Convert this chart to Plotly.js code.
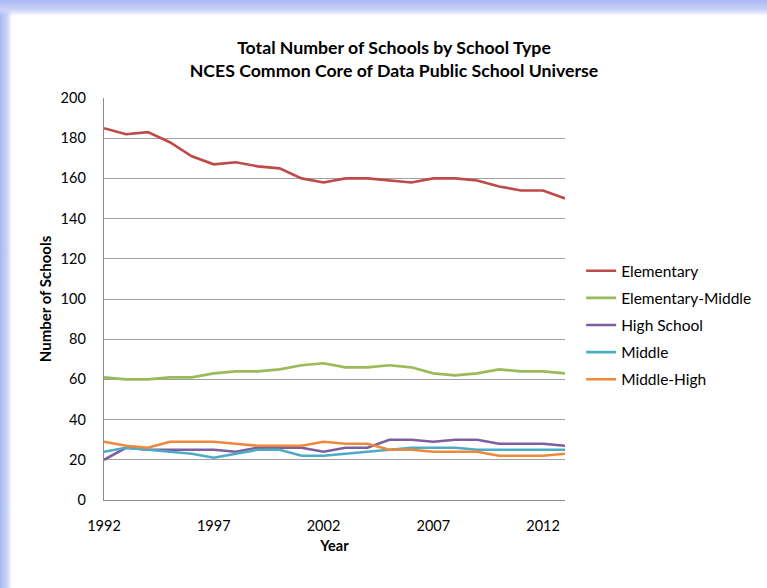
<!DOCTYPE html>
<html>
<head>
<meta charset="utf-8">
<script src="https://cdn.plot.ly/plotly-3.0.1.min.js"></script>
<style>
html,body{margin:0;padding:0;background:#fff;}
#wrap{position:relative;width:767px;height:588px;overflow:hidden;}
#chart{position:absolute;left:0;top:0;width:767px;height:588px;}
#glowL{position:absolute;left:0;top:0;width:12px;height:588px;background:linear-gradient(to right,#a9b8f2,#c9d3f8 60%,rgba(255,255,255,0));pointer-events:none;}
#glowT{position:absolute;left:0;top:0;width:767px;height:16px;background:linear-gradient(to bottom,#a9b8f2,#c9d3f8 60%,rgba(255,255,255,0));pointer-events:none;}
</style>
</head>
<body>
<div id="wrap"><div id="chart"></div><div id="glowL"></div><div id="glowT"></div></div>
<script>
const years = [1992,1993,1994,1995,1996,1997,1998,1999,2000,2001,2002,2003,2004,2005,2006,2007,2008,2009,2010,2011,2012,2013];
const elementary = [185,182,183,178,171,167,168,166,165,160,158,160,160,159,158,160,160,159,156,154,154,150];
const elementaryMiddle = [61,60,60,61,61,63,64,64,65,67,68,66,66,67,66,63,62,63,65,64,64,63];
const highSchool = [20,26,25,25,25,25,24,26,26,26,24,26,26,30,30,29,30,30,28,28,28,27];
const middle = [24,26,25,24,23,21,23,25,25,22,22,23,24,25,26,26,26,25,25,25,25,25];
const middleHigh = [29,27,26,29,29,29,28,27,27,27,29,28,28,25,25,24,24,24,22,22,22,23];

const seriesNames = ['Elementary','Elementary-Middle','High School','Middle','Middle-High'];
const seriesData = [elementary, elementaryMiddle, highSchool, middle, middleHigh];
const colors = ['#BE4B48','#9BBB59','#7D5FA0','#4BACC6','#F0883C'];

const traces = seriesNames.map((n,i)=>({
  x: years, y: seriesData[i], name: n, type:'scatter', mode:'lines', legendgroup:'g'+i,
  line:{color:colors[i], width:2.6}
}));

const font = 'Lato, "Open Sans", sans-serif';
const layout = {
  width:767, height:588,
  margin:{l:104, r:202, t:98, b:88, autoexpand:false},
  paper_bgcolor:'#fff', plot_bgcolor:'#fff',
  font:{family:font, size:14, color:'#000'},
  title:{text:'<b>Total Number of Schools by School Type</b><br><b>NCES Common Core of Data Public School Universe</b>',
    font:{family:font, size:17.7, color:'#000'}, x:394/767, xref:'container', xanchor:'center', y:1-53.5/588, yref:'container', yanchor:'middle'},
  xaxis:{range:[1992,2013], tickvals:[1992,1997,2002,2007,2012], ticktext:['1992','1997','2002','2007','2012'],
    showgrid:false, zeroline:false, showline:true, linecolor:'#8c8c8c', linewidth:1.3,
    ticks:'outside', ticklen:12, tickcolor:'rgba(0,0,0,0)', automargin:false,
    tickfont:{family:font,size:14.5,color:'#000'},
    title:{text:'<b>Year</b>', font:{family:font,size:14.5,color:'#000'}, standoff:8}},
  yaxis:{range:[0,200], dtick:20, showgrid:true, gridcolor:'#a0a0a0', gridwidth:1, zeroline:false,
    showline:true, linecolor:'#8c8c8c', linewidth:1.3, automargin:false,
    ticks:'outside', ticklen:14, tickcolor:'rgba(0,0,0,0)', tickfont:{family:font,size:14.5,color:'#000'},
    title:{text:'<b>Number of Schools</b>', font:{family:font,size:15,color:'#000'}, standoff:5}},
  legend:{x:1.035, xanchor:'left', y:0.435, yanchor:'middle', font:{family:font,size:15.5,color:'#000'},
    tracegroupgap:4, itemwidth:30, bgcolor:'rgba(0,0,0,0)'},
  showlegend:true
};
Plotly.newPlot('chart', traces, layout, {displayModeBar:false, staticPlot:true});
</script>
</body>
</html>
